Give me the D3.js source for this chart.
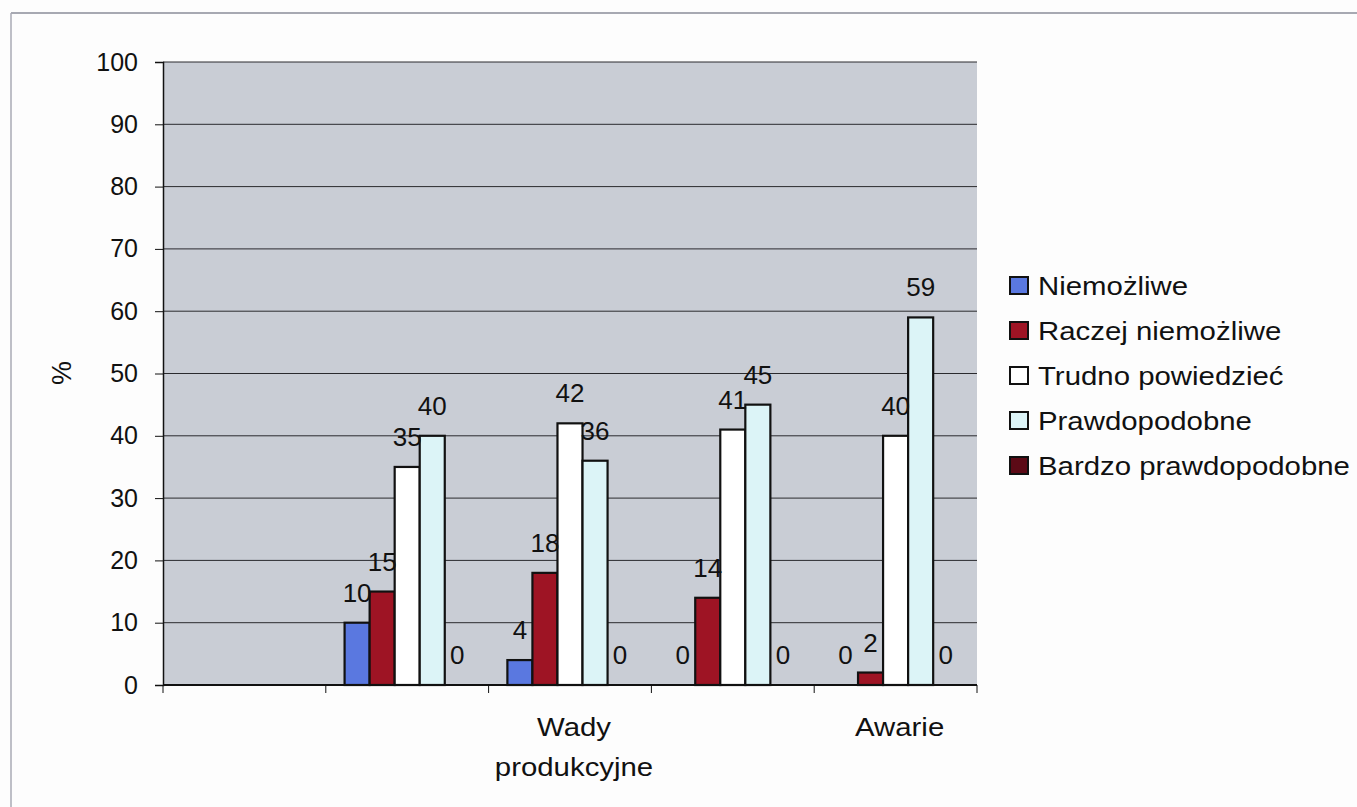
<!DOCTYPE html>
<html>
<head>
<meta charset="utf-8">
<script src="https://cdn.jsdelivr.net/npm/d3@7"></script>
<style>
  html, body { margin: 0; padding: 0; background: #fdfdfd; }
  svg { display: block; }
  text { font-family: "Liberation Sans", Arial, sans-serif; fill: #111; }
</style>
</head>
<body>
<svg id="chart" width="1357" height="807"></svg>
<script>
// ---- data ----
const categories = ["", "", "Wady produkcyjne", "", "Awarie"];
const seriesNames = ["Niemożliwe", "Raczej niemożliwe", "Trudno powiedzieć", "Prawdopodobne", "Bardzo prawdopodobne"];
const niemozliwe = [null, 10, 4, 0, 0];
const raczejNiemozliwe = [null, 15, 18, 14, 2];
const trudnoPowiedziec = [null, 35, 42, 41, 40];
const prawdopodobne = [null, 40, 36, 45, 59];
const bardzoPrawdopodobne = [null, 0, 0, 0, 0];
const yTicks = [0, 10, 20, 30, 40, 50, 60, 70, 80, 90, 100];
const colors = ["#5a78e0", "#9e1424", "#ffffff", "#dcf4f7", "#5c0a16"];

const seriesValues = [niemozliwe, raczejNiemozliwe, trudnoPowiedziec, prawdopodobne, bardzoPrawdopodobne];

// ---- layout ----
const svg = d3.select("#chart");
const plot = { left: 163, top: 62, right: 977, bottom: 685 };
const stretch = 1.13;

// outer frame (only top and left visible)
svg.append("line").attr("x1", 11).attr("x2", 1357).attr("y1", 13).attr("y2", 13)
  .attr("stroke", "#8a8c98").attr("stroke-width", 1.5);
svg.append("line").attr("x1", 11).attr("x2", 11).attr("y1", 13).attr("y2", 807)
  .attr("stroke", "#a8aab4").attr("stroke-width", 1.5);

const x = d3.scaleBand().domain(d3.range(categories.length))
  .range([plot.left, plot.right]).paddingInner(0).paddingOuter(0);
const xs = d3.scaleBand().domain(d3.range(seriesNames.length))
  .range([0, x.bandwidth()]).paddingInner(0).paddingOuter(0.75);
const y = d3.scaleLinear().domain([0, 100]).range([plot.bottom, plot.top]);

// plot background
svg.append("rect").attr("x", plot.left).attr("y", plot.top)
  .attr("width", plot.right - plot.left).attr("height", plot.bottom - plot.top)
  .attr("fill", "#c9cdd5");

// gridlines
svg.append("g").selectAll("line").data(yTicks.filter(d => d > 0)).join("line")
  .attr("x1", plot.left).attr("x2", plot.right)
  .attr("y1", d => y(d)).attr("y2", d => y(d))
  .attr("stroke", "#2a2a2e").attr("stroke-width", 1);

// y axis
const yAxis = svg.append("g").attr("transform", `translate(${plot.left},0)`)
  .call(d3.axisLeft(y).tickValues(yTicks).tickSize(8).tickPadding(17));
yAxis.select(".domain").attr("stroke", "#111").attr("stroke-width", 1.5);
yAxis.selectAll(".tick line").attr("stroke", "#111");
yAxis.selectAll("text").style("font-size", "25px").attr("fill", "#111")
  .attr("font-family", "Liberation Sans, Arial, sans-serif");

// bars
const groups = svg.append("g").selectAll("g").data(categories.map((c, i) => i)).join("g")
  .attr("transform", i => `translate(${x(i)},0)`);

groups.each(function(ci) {
  const g = d3.select(this);
  const vals = seriesValues.map((s, si) => ({ si, v: s[ci] })).filter(d => d.v !== null);
  g.selectAll("rect").data(vals).join("rect")
    .attr("x", d => xs(d.si))
    .attr("y", d => y(d.v))
    .attr("width", xs.bandwidth())
    .attr("height", d => y(0) - y(d.v))
    .attr("fill", d => colors[d.si])
    .attr("stroke", "#111").attr("stroke-width", 2.2);
  g.selectAll("text").data(vals).join("text")
    .attr("x", d => xs(d.si) + xs.bandwidth() / 2)
    .attr("y", d => y(d.v) - 21)
    .attr("text-anchor", "middle")
    .style("font-size", "26px")
    .text(d => d.v);
});

// x axis
const xAxis = svg.append("g").attr("transform", `translate(0,${plot.bottom})`);
xAxis.append("line").attr("x1", plot.left).attr("x2", plot.right).attr("y1", 0).attr("y2", 0)
  .attr("stroke", "#111").attr("stroke-width", 2);
const xTickPos = d3.range(categories.length + 1).map(i => i < categories.length ? x(i) : x(categories.length - 1) + x.bandwidth());
xAxis.selectAll("line.tk").data(xTickPos).join("line").attr("class", "tk")
  .attr("x1", d => d).attr("x2", d => d).attr("y1", 0).attr("y2", 8)
  .attr("stroke", "#111").attr("stroke-width", 1);
categories.forEach((c, i) => {
  if (!c) return;
  const words = c.split(" ");
  const t = xAxis.append("text").attr("text-anchor", "middle").style("font-size", "26px")
    .attr("transform", `translate(${x(i) + x.bandwidth() / 2 + 4},0) scale(${stretch},1)`);
  words.forEach((w, k) => t.append("tspan").attr("x", 0).attr("y", 51 + k * 40).text(w));
});

// y axis title
svg.append("text").attr("transform", "translate(71,373) rotate(-90)")
  .attr("text-anchor", "middle").style("font-size", "27px").text("%");

// legend
const legend = svg.append("g").attr("transform", "translate(1010,0)");
seriesNames.forEach((n, i) => {
  const cy = 286 + i * 45;
  legend.append("rect").attr("x", 0).attr("y", cy - 9).attr("width", 18).attr("height", 17)
    .attr("fill", colors[i]).attr("stroke", "#111").attr("stroke-width", 2);
  legend.append("text").attr("transform", `translate(28,${cy + 9}) scale(${stretch},1)`)
    .style("font-size", "26px").text(n);
});
</script>
</body>
</html>
